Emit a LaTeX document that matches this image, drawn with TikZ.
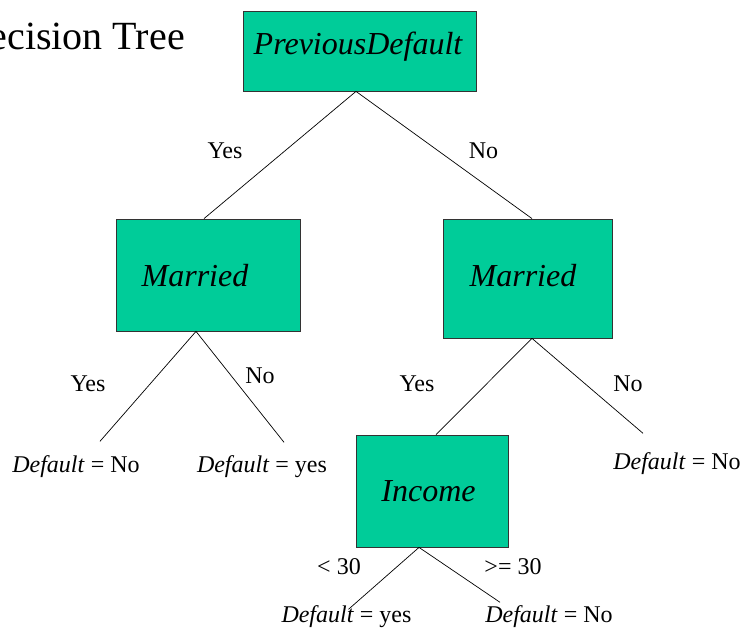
\documentclass[tikz,border=0pt]{standalone}
\usepackage{fontspec}
\setmainfont{Liberation Serif}
\usepackage{xcolor}
\definecolor{treegreen}{RGB}{0,204,153}

\begin{document}
\begin{tikzpicture}[x=1pt,y=-1pt,
                decision/.style={draw=black!80,line width=0.8pt,fill=treegreen,inner sep=0pt},
                boxtext/.style={font=\fontsize{32}{38}\selectfont\itshape,inner sep=0pt},
                branch/.style={line width=0.7pt},
                edgelab/.style={anchor=base,inner sep=0pt,font=\fontsize{24}{28}\selectfont},
                leaf/.style={anchor=base,inner sep=0pt,font=\fontsize{24}{28}\selectfont}]
                \useasboundingbox (0,0) rectangle (743,628);

                \node[anchor=base east,inner sep=0pt,font=\fontsize{40}{48}\selectfont] (title) at (185,50) {Decision Tree};

                \node[decision,minimum width=233pt,minimum height=80pt,
                      label={[boxtext,xshift=-1.5pt,yshift=4.5pt]center:PreviousDefault}] (prev) at (359.5,51) {};
                \node[decision,minimum width=184pt,minimum height=112pt,
                      label={[boxtext,xshift=-13pt,yshift=-1pt]center:Married}] (mleft) at (208,275) {};
                \node[decision,minimum width=169pt,minimum height=119pt,
                      label={[boxtext,xshift=-4.5pt,yshift=2.5pt]center:Married}] (mright) at (527.5,278.5) {};
                \node[decision,minimum width=152pt,minimum height=112pt,
                      label={[boxtext,xshift=-3.5pt]center:Income}] (income) at (432,491) {};

                \node[leaf] (leafa) at (76,472) {\textit{Default} = No};
                \node[leaf] (leafb) at (262,472) {\textit{Default} = yes};
                \node[leaf] (leafc) at (677,469) {\textit{Default} = No};
                \node[leaf] (leafd) at (346.5,622) {\textit{Default} = yes};
                \node[leaf] (leafe) at (549,622) {\textit{Default} = No};

                \draw[branch] ([xshift=-3.5pt]prev.south) -- ([xshift=-4pt]mleft.north);
                \draw[branch] ([xshift=-3.5pt]prev.south) -- ([xshift=4.5pt]mright.north);
                \draw[branch] ([xshift=-12pt]mleft.south) -- ([xshift=24pt,yshift=13.6pt]leafa.north);
                \draw[branch] ([xshift=-12pt]mleft.south) -- ([xshift=22pt,yshift=12.6pt]leafb.north);
                \draw[branch] ([xshift=4.5pt]mright.south) -- ([xshift=4pt]income.north);
                \draw[branch] ([xshift=4.5pt]mright.south) -- ([xshift=-34pt,yshift=18.6pt]leafc.north);
                \draw[branch] ([xshift=-13pt]income.south) -- ([xshift=2pt,yshift=-4.4pt]leafd.north);
                \draw[branch] ([xshift=-13pt]income.south) -- ([xshift=-49pt,yshift=2.6pt]leafe.north);

                \node[edgelab] (yesprev) at (225,159) {Yes};
                \node[edgelab] (noprev) at (483.5,159) {No};
                \node[edgelab] (yesleft) at (88,391) {Yes};
                \node[edgelab] (noleft) at (260,383) {No};
                \node[edgelab] (yesright) at (417,391) {Yes};
                \node[edgelab] (noright) at (628,391) {No};
                \node[edgelab] (lowinc) at (339,574) {< 30};
                \node[edgelab] (highinc) at (513,574) {>= 30};
\end{tikzpicture}
\end{document}
